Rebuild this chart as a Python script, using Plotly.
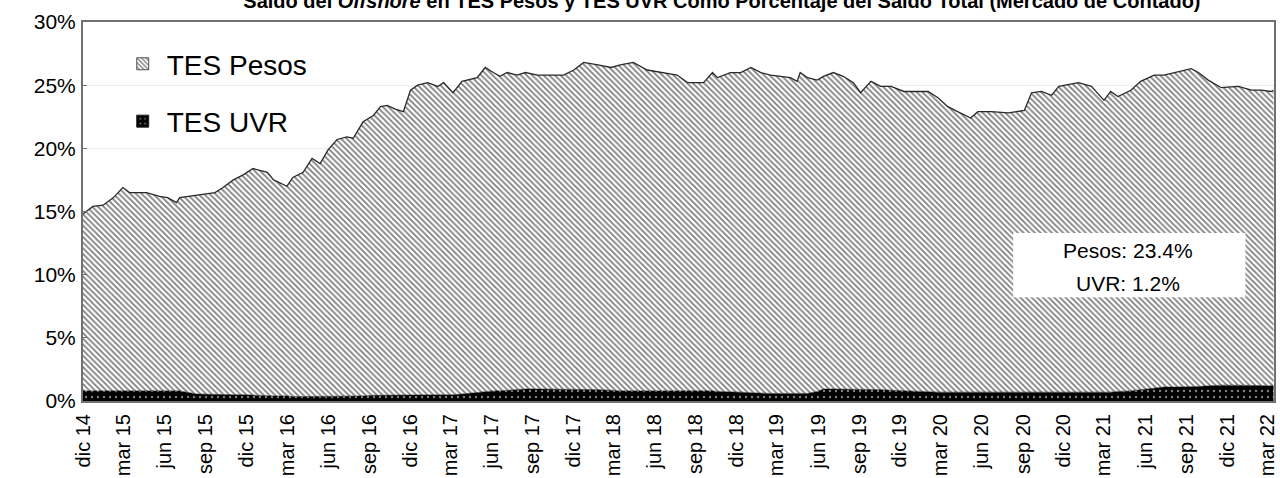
import plotly.graph_objects as go

# Offshore holdings as % of total outstanding (spot market), stacked: UVR at the bottom, Pesos on top
DATES = [
    "2014-12-01", "2014-12-23", "2015-01-15", "2015-02-07", "2015-02-28", "2015-03-15",
    "2015-04-22", "2015-05-21", "2015-06-08", "2015-06-28", "2015-07-05", "2015-08-12",
    "2015-09-22", "2015-10-10", "2015-11-02", "2015-11-24", "2015-12-16", "2016-01-17",
    "2016-01-31", "2016-03-01", "2016-03-14", "2016-04-06", "2016-04-26", "2016-05-14",
    "2016-06-01", "2016-06-21", "2016-07-13", "2016-07-27", "2016-08-18", "2016-09-10",
    "2016-09-26", "2016-10-11", "2016-10-29", "2016-11-16", "2016-12-02", "2016-12-18",
    "2017-01-09", "2017-02-01", "2017-02-14", "2017-03-07", "2017-03-27", "2017-04-30",
    "2017-05-18", "2017-06-05", "2017-06-20", "2017-07-06", "2017-07-28", "2017-08-16",
    "2017-09-12", "2017-10-11", "2017-11-09", "2017-12-02", "2017-12-24", "2018-01-25",
    "2018-02-23", "2018-03-16", "2018-04-14", "2018-05-15", "2018-06-20", "2018-07-21",
    "2018-08-13", "2018-09-05", "2018-09-18", "2018-10-08", "2018-10-19", "2018-11-17",
    "2018-12-10", "2019-01-02", "2019-01-24", "2019-02-15", "2019-03-08", "2019-03-31",
    "2019-04-15", "2019-04-22", "2019-05-08", "2019-05-30", "2019-06-13", "2019-07-05",
    "2019-07-27", "2019-08-19", "2019-09-04", "2019-09-27", "2019-10-19", "2019-11-11",
    "2019-12-10", "2020-01-10", "2020-02-02", "2020-02-24", "2020-03-17", "2020-04-08",
    "2020-05-07", "2020-05-23", "2020-06-22", "2020-07-30", "2020-09-04", "2020-09-20",
    "2020-10-12", "2020-11-04", "2020-11-20", "2021-01-03", "2021-02-01", "2021-03-01",
    "2021-03-16", "2021-04-01", "2021-04-30", "2021-05-22", "2021-06-21", "2021-07-13",
    "2021-08-05", "2021-09-12", "2021-09-28", "2021-10-20", "2021-11-18", "2021-12-26",
    "2022-01-25", "2022-02-16", "2022-03-09", "2022-03-15",
]

UVR = [
    0.80, 0.80, 0.80, 0.80, 0.80, 0.80,
    0.80, 0.80, 0.80, 0.80, 0.80, 0.55,
    0.50, 0.50, 0.50, 0.50, 0.45, 0.40,
    0.40, 0.40, 0.35, 0.35, 0.35, 0.35,
    0.35, 0.35, 0.40, 0.40, 0.40, 0.45,
    0.45, 0.50, 0.50, 0.50, 0.50, 0.50,
    0.50, 0.50, 0.50, 0.50, 0.55, 0.70,
    0.75, 0.80, 0.80, 0.85, 0.90, 0.95,
    0.95, 0.95, 0.95, 0.95, 0.95, 0.90,
    0.85, 0.80, 0.80, 0.80, 0.85, 0.85,
    0.80, 0.80, 0.80, 0.80, 0.75, 0.75,
    0.70, 0.65, 0.60, 0.60, 0.60, 0.60,
    0.60, 0.60, 0.60, 0.75, 0.95, 0.95,
    0.95, 0.95, 0.95, 0.95, 0.90, 0.85,
    0.80, 0.75, 0.75, 0.70, 0.70, 0.70,
    0.70, 0.70, 0.65, 0.65, 0.65, 0.65,
    0.65, 0.65, 0.65, 0.65, 0.70, 0.70,
    0.70, 0.75, 0.80, 0.90, 1.05, 1.10,
    1.10, 1.10, 1.15, 1.20, 1.25, 1.25,
    1.25, 1.20, 1.20, 1.20,
]

PESOS = [
    14.00, 14.60, 14.70, 15.30, 16.10, 15.70,
    15.70, 15.40, 15.30, 14.90, 15.30, 15.75,
    16.00, 16.40, 17.00, 17.40, 17.95, 17.70,
    17.10, 16.60, 17.35, 17.75, 18.85, 18.45,
    19.55, 20.35, 20.50, 20.40, 21.70, 22.15,
    22.85, 22.90, 22.60, 22.40, 24.10, 24.50,
    24.70, 24.40, 24.70, 23.90, 24.75, 24.90,
    25.65, 25.20, 24.90, 25.15, 24.90, 25.05,
    24.85, 24.85, 24.85, 25.25, 25.85, 25.70,
    25.55, 25.80, 26.00, 25.40, 25.15, 24.95,
    24.40, 24.40, 24.40, 25.20, 24.85, 25.25,
    25.30, 25.75, 25.40, 25.20, 25.10, 25.00,
    24.70, 25.40, 25.00, 24.65, 24.75, 25.05,
    24.75, 24.25, 23.45, 24.35, 24.00, 24.05,
    23.70, 23.75, 23.75, 23.30, 22.60, 22.20,
    21.70, 22.20, 22.25, 22.15, 22.35, 23.75,
    23.85, 23.55, 24.25, 24.55, 24.20, 23.10,
    23.80, 23.35, 23.80, 24.40, 24.75, 24.70,
    24.90, 25.20, 24.85, 24.20, 23.55, 23.65,
    23.35, 23.40, 23.30, 23.40,
]

TICK_DATES = [
    "2014-12-01", "2015-03-01", "2015-06-01", "2015-09-01", "2015-12-01",
    "2016-03-01", "2016-06-01", "2016-09-01", "2016-12-01", "2017-03-01",
    "2017-06-01", "2017-09-01", "2017-12-01", "2018-03-01", "2018-06-01",
    "2018-09-01", "2018-12-01", "2019-03-01", "2019-06-01", "2019-09-01",
    "2019-12-01", "2020-03-01", "2020-06-01", "2020-09-01", "2020-12-01",
    "2021-03-01", "2021-06-01", "2021-09-01", "2021-12-01", "2022-03-01",
]
TICK_LABELS = [
    "dic 14", "mar 15", "jun 15", "sep 15", "dic 15",
    "mar 16", "jun 16", "sep 16", "dic 16", "mar 17",
    "jun 17", "sep 17", "dic 17", "mar 18", "jun 18",
    "sep 18", "dic 18", "mar 19", "jun 19", "sep 19",
    "dic 19", "mar 20", "jun 20", "sep 20", "dic 20",
    "mar 21", "jun 21", "sep 21", "dic 21", "mar 22",
]

FONT = "Arial, Liberation Sans, sans-serif"
PESOS_PATTERN = dict(shape="\\", fgcolor="black", bgcolor="white", size=4, solidity=0.45)
UVR_PATTERN = dict(shape=".", fgcolor="white", bgcolor="black", size=6, solidity=0.12)

fig = go.Figure()

# stacked areas
fig.add_trace(go.Scatter(
    x=DATES, y=UVR, name="TES UVR", stackgroup="s", mode="lines",
    line=dict(width=0.5, color="black"), fillcolor="black",
    fillpattern=UVR_PATTERN, showlegend=False, hoverinfo="skip",
))
fig.add_trace(go.Scatter(
    x=DATES, y=PESOS, name="TES Pesos", stackgroup="s", mode="lines",
    line=dict(width=1.3, color="#2a2a2a"), fillcolor="white",
    fillpattern=PESOS_PATTERN, showlegend=False, hoverinfo="skip",
))

# square legend keys
fig.add_trace(go.Bar(
    x=[None], y=[None], name="TES Pesos", legendgroup="p",
    marker=dict(color="white", pattern=PESOS_PATTERN, line=dict(color="#555", width=1)),
))
fig.add_trace(go.Bar(
    x=[None], y=[None], name="TES UVR", legendgroup="u",
    marker=dict(color="black", pattern=UVR_PATTERN, line=dict(color="#222", width=1)),
))

ANNOT_FONT = dict(family=FONT, size=21, color="black")
fig.add_shape(type="rect", xref="paper", yref="paper", x0=0.781, x1=0.976, y0=0.274, y1=0.443,
              fillcolor="white", line=dict(width=0), layer="above")
fig.add_annotation(xref="paper", yref="paper", x=0.877, y=0.398, showarrow=False,
                   xanchor="center", yanchor="middle",
                   text=f"Pesos: {PESOS[-1]:.1f}%", font=ANNOT_FONT)
fig.add_annotation(xref="paper", yref="paper", x=0.877, y=0.311, showarrow=False,
                   xanchor="center", yanchor="middle",
                   text=f"UVR: {UVR[-1]:.1f}%", font=ANNOT_FONT)

fig.update_layout(
    width=1280, height=478,
    margin=dict(l=83, r=6, t=22, b=77),
    paper_bgcolor="white", plot_bgcolor="white",
    font=dict(family=FONT, color="black"),
    title=dict(
        text="<b>Saldo del <i>Offshore</i> en TES Pesos y TES UVR Como Porcentaje del Saldo Total (Mercado de Contado)</b>",
        font=dict(family=FONT, size=20, color="black"),
        x=0.564, xanchor="center", xref="container",
        y=0.983, yanchor="bottom", yref="container",
    ),
    showlegend=True,
    legend=dict(
        x=0.03, y=0.955, xanchor="left", yanchor="top",
        font=dict(family=FONT, size=28, color="black"),
        bgcolor="rgba(0,0,0,0)", tracegroupgap=18, traceorder="grouped",
        itemwidth=38,
    ),
    xaxis=dict(
        type="date", range=["2014-12-01", "2022-03-16"],
        tickmode="array", tickvals=TICK_DATES, ticktext=TICK_LABELS,
        tickangle=-90, tickfont=dict(family=FONT, size=20),
        showgrid=False, showline=True, linecolor="#707070", linewidth=2, mirror=True,
        ticks="", zeroline=False, ticklabelstandoff=3, automargin=False,
    ),
    yaxis=dict(
        range=[0, 30], dtick=5, ticksuffix="%",
        tickfont=dict(family=FONT, size=21),
        showgrid=True, gridcolor="#ececec", gridwidth=1,
        showline=True, linecolor="#707070", linewidth=2, mirror=True,
        ticks="inside", ticklen=4, tickcolor="#707070", zeroline=False,
        ticklabelstandoff=1, automargin=False,
    ),
)

fig.write_html("out.html")
